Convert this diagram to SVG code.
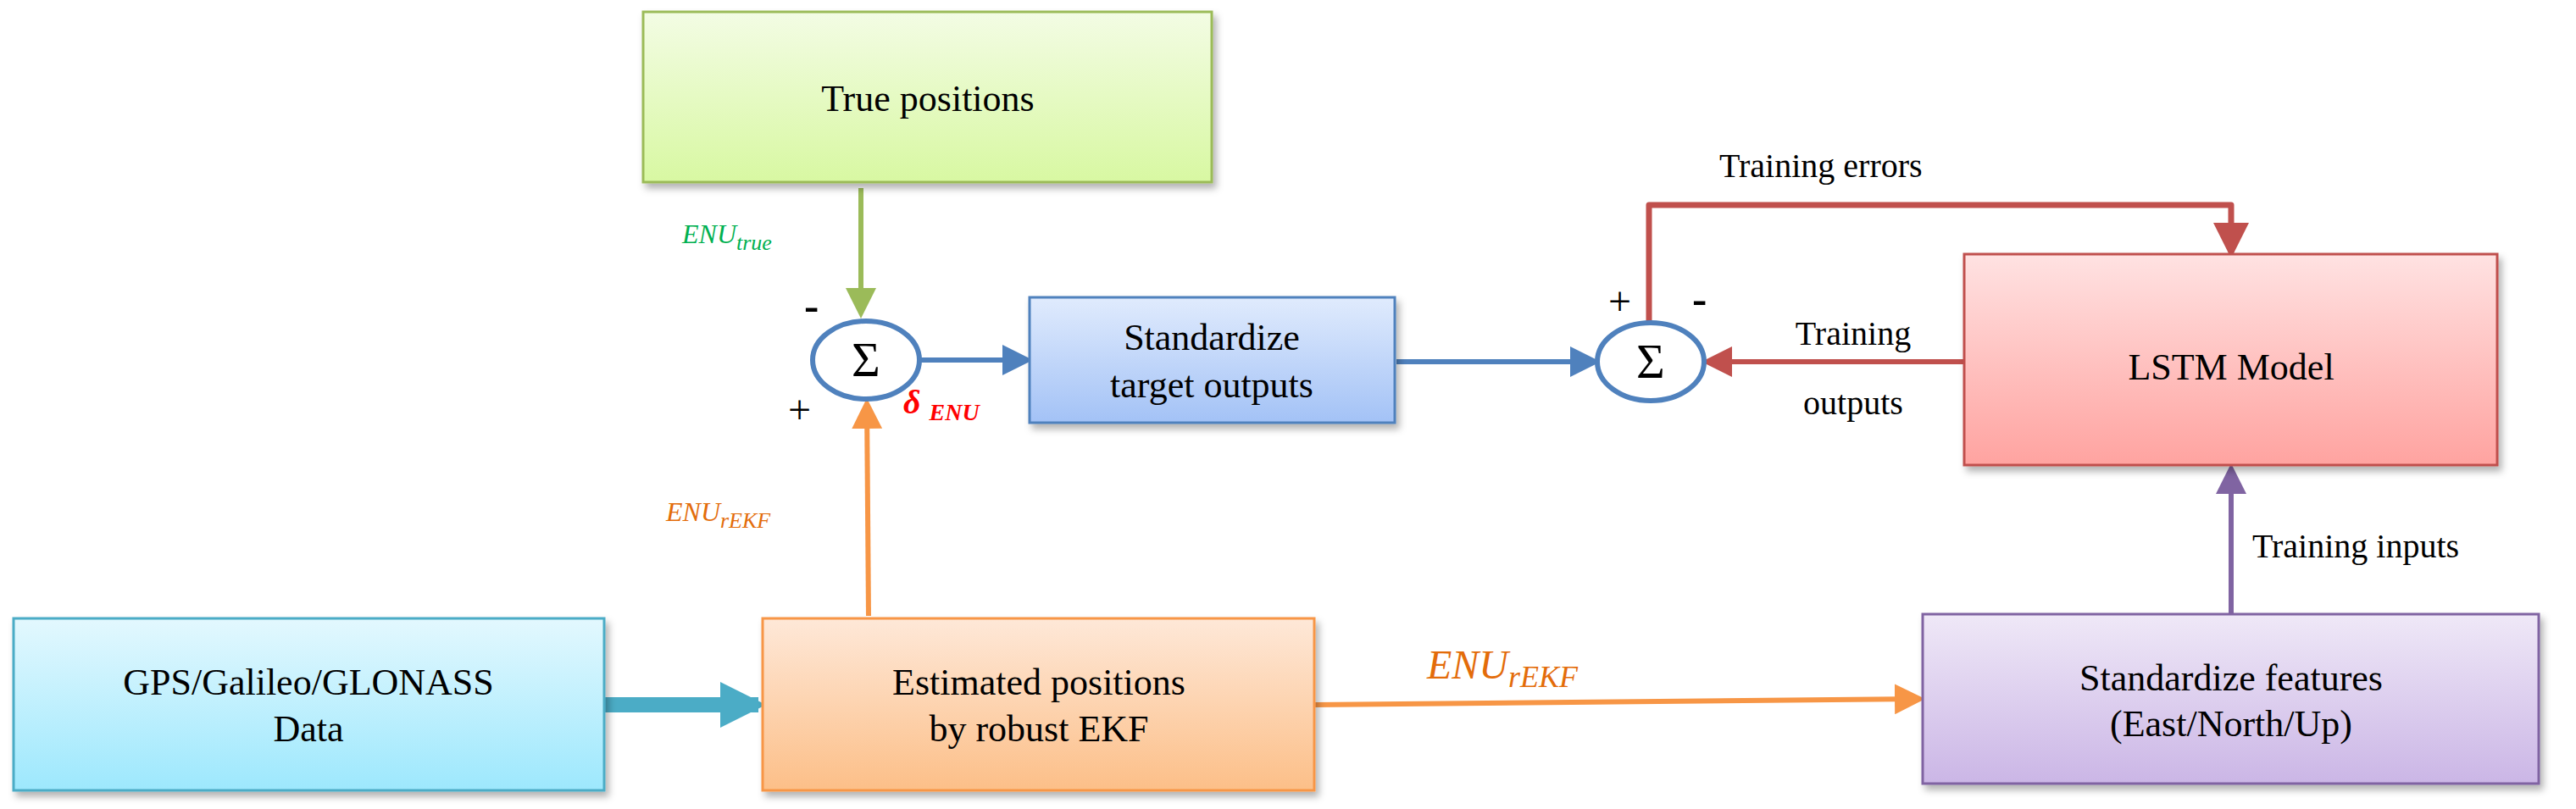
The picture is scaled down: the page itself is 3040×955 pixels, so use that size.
<svg xmlns="http://www.w3.org/2000/svg" width="3040" height="955" viewBox="0 0 3040 955">
<defs>
<style>
text{font-family:"Liberation Serif","Times New Roman",serif;fill:#000}
.t{font-size:44px;text-anchor:middle}
.m{font-style:italic}
.box{stroke-width:3}
</style>
<filter id="sh" x="-5%" y="-5%" width="112%" height="120%"><feDropShadow dx="4" dy="6" stdDeviation="4" flood-color="#000" flood-opacity="0.3"/></filter>
<linearGradient id="gG" x1="0" y1="0" x2="0" y2="1"><stop offset="0" stop-color="#f3fce4"/><stop offset="1" stop-color="#d8f8a2"/></linearGradient>
<linearGradient id="gB" x1="0" y1="0" x2="0" y2="1"><stop offset="0" stop-color="#e0ebfd"/><stop offset="1" stop-color="#a3c2f6"/></linearGradient>
<linearGradient id="gR" x1="0" y1="0" x2="0" y2="1"><stop offset="0" stop-color="#ffe2e2"/><stop offset="1" stop-color="#ffa3a0"/></linearGradient>
<linearGradient id="gP" x1="0" y1="0" x2="0" y2="1"><stop offset="0" stop-color="#efe8f7"/><stop offset="1" stop-color="#cbb6e6"/></linearGradient>
<linearGradient id="gC" x1="0" y1="0" x2="0" y2="1"><stop offset="0" stop-color="#e3f8fe"/><stop offset="1" stop-color="#9de8fd"/></linearGradient>
<linearGradient id="gO" x1="0" y1="0" x2="0" y2="1"><stop offset="0" stop-color="#fee8d8"/><stop offset="1" stop-color="#fcbf88"/></linearGradient>
<marker id="aG" markerWidth="6" markerHeight="6" refX="5" refY="3" orient="auto" markerUnits="strokeWidth"><path d="M0,0L6,3L0,6z" fill="#9bbb59"/></marker>
<marker id="aB" markerWidth="6" markerHeight="6" refX="5" refY="3" orient="auto" markerUnits="strokeWidth"><path d="M0,0L6,3L0,6z" fill="#4f81bd"/></marker>
<marker id="aR" markerWidth="6" markerHeight="6" refX="5" refY="3" orient="auto" markerUnits="strokeWidth"><path d="M0,0L6,3L0,6z" fill="#c0504d"/></marker>
<marker id="aP" markerWidth="6" markerHeight="6" refX="5" refY="3" orient="auto" markerUnits="strokeWidth"><path d="M0,0L6,3L0,6z" fill="#8064a2"/></marker>
<marker id="aO" markerWidth="6" markerHeight="6" refX="5" refY="3" orient="auto" markerUnits="strokeWidth"><path d="M0,0L6,3L0,6z" fill="#f79646"/></marker>
<marker id="aC" markerWidth="3" markerHeight="3" refX="2.5" refY="1.5" orient="auto" markerUnits="strokeWidth"><path d="M0,0L3,1.5L0,3z" fill="#4bacc6"/></marker>
</defs>

<g id="connectors" fill="none">
<line x1="1016" y1="222" x2="1016" y2="370" stroke="#9bbb59" stroke-width="6" marker-end="url(#aG)"/>
<line x1="1025" y1="727" x2="1023" y2="476" stroke="#f79646" stroke-width="6" marker-end="url(#aO)"/>
<line x1="1087" y1="425" x2="1213" y2="425" stroke="#4f81bd" stroke-width="6" marker-end="url(#aB)"/>
<line x1="1648" y1="427" x2="1883" y2="427" stroke="#4f81bd" stroke-width="6" marker-end="url(#aB)"/>
<line x1="2318" y1="427" x2="2014" y2="427" stroke="#c0504d" stroke-width="6" marker-end="url(#aR)"/>
<path d="M1946,380V242H2633V298" stroke="#c0504d" stroke-width="7" stroke-linejoin="round" marker-end="url(#aR)"/>
<line x1="2633" y1="725" x2="2633" y2="553" stroke="#8064a2" stroke-width="6" marker-end="url(#aP)"/>
<line x1="1552" y1="832" x2="2266" y2="825" stroke="#f79646" stroke-width="6" marker-end="url(#aO)"/>
<line x1="713" y1="832" x2="895" y2="832" stroke="#4bacc6" stroke-width="18" marker-end="url(#aC)"/>
</g>

<g id="true-positions"><rect class="box" x="759" y="14" width="671" height="201" fill="url(#gG)" stroke="#9bbb59" filter="url(#sh)"/><text class="t" x="1095" y="131" font-size="46">True positions</text></g>
<g id="sum1"><ellipse cx="1022" cy="425" rx="63" ry="46" fill="#fff" stroke="#4f81bd" stroke-width="6"/><text x="1022" y="444" font-size="58" text-anchor="middle">Σ</text></g>
<g id="standardize-target"><rect class="box" x="1215" y="351" width="431" height="148" fill="url(#gB)" stroke="#4f81bd" filter="url(#sh)"/><text class="t" x="1430" y="413">Standardize</text><text class="t" x="1430" y="469">target outputs</text></g>
<g id="sum2"><ellipse cx="1948" cy="427" rx="63" ry="46" fill="#fff" stroke="#4f81bd" stroke-width="6"/><text x="1948" y="446" font-size="58" text-anchor="middle">Σ</text></g>
<g id="lstm"><rect class="box" x="2318" y="300" width="629" height="249" fill="url(#gR)" stroke="#c0504d" filter="url(#sh)"/><text class="t" x="2633" y="448" font-size="62">LSTM Model</text></g>
<g id="standardize-features"><rect class="box" x="2269" y="725" width="727" height="200" fill="url(#gP)" stroke="#8064a2" filter="url(#sh)"/><text class="t" x="2633" y="815">Standardize features</text><text class="t" x="2633" y="869">(East/North/Up)</text></g>
<g id="gnss"><rect class="box" x="16" y="730" width="697" height="203" fill="url(#gC)" stroke="#4bacc6" filter="url(#sh)"/><text class="t" x="364" y="820">GPS/Galileo/GLONASS</text><text class="t" x="364" y="875">Data</text></g>
<g id="ekf"><rect class="box" x="900" y="730" width="651" height="203" fill="url(#gO)" stroke="#f79646" filter="url(#sh)"/><text class="t" x="1226" y="820">Estimated positions</text><text class="t" x="1226" y="875">by robust EKF</text></g>

<g id="labels">
<text x="805" y="287" class="m" font-size="32" fill="#00b050" style="fill:#00b050">ENU<tspan font-size="26" dy="8">true</tspan></text>
<text x="949" y="378" font-size="52" font-family="Liberation Sans" font-weight="bold">-</text>
<text x="930" y="500" font-size="48" font-family="Liberation Sans">+</text>
<text x="1066" y="488" font-size="40" font-weight="bold" class="m" style="fill:#ff0000">δ <tspan font-size="28" dy="8">ENU</tspan></text>
<text x="786" y="615" class="m" font-size="32" style="fill:#e36c0a">ENU<tspan font-size="26" dy="8">rEKF</tspan></text>
<text x="1684" y="801" class="m" font-size="48" style="fill:#e36c0a">ENU<tspan font-size="36" dy="10">rEKF</tspan></text>
<text x="1898" y="372" font-size="48" font-family="Liberation Sans">+</text>
<text x="1997" y="370" font-size="52" font-family="Liberation Sans" font-weight="bold">-</text>
<text x="2029" y="209" font-size="40">Training errors</text>
<text x="2187" y="407" font-size="40" text-anchor="middle">Training</text>
<text x="2187" y="489" font-size="40" text-anchor="middle">outputs</text>
<text x="2658" y="658" font-size="40">Training inputs</text>
</g>
</svg>
